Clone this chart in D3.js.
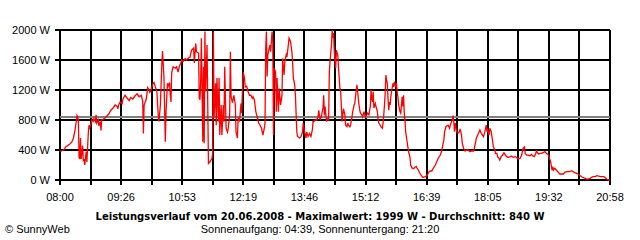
<!DOCTYPE html>
<html>
<head>
<meta charset="utf-8">
<script src="https://cdn.jsdelivr.net/npm/d3@7"></script>
<style>
  body { margin: 0; background: #fff; }
  svg { display: block; font-family: "Liberation Sans", Arial, sans-serif; }
</style>
</head>
<body>
<div id="chart"></div>
<script>
const times = [
  "08:00","08:03","08:06","08:08","08:11","08:14","08:17","08:19","08:21","08:23",
  "08:24","08:25","08:26","08:27","08:28","08:29","08:30","08:32","08:33","08:34",
  "08:35","08:37","08:38","08:40","08:41","08:42","08:44","08:45","08:47","08:48",
  "08:50","08:51","08:52","08:54","08:55","08:57","08:58","08:59","09:01","09:04",
  "09:06","09:09","09:12","09:15","09:18","09:21","09:22","09:23","09:25","09:28",
  "09:29","09:32","09:35","09:38","09:40","09:43","09:46","09:49","09:52","09:55",
  "09:57","09:58","09:59","10:02","10:04","10:06","10:07",
  "10:09","10:11","10:13","10:17","10:19","10:20","10:22","10:24","10:25","10:27",
  "10:29","10:30","10:32","10:33","10:35","10:36","10:37","10:38","10:40","10:43",
  "10:45","10:47","10:49","10:51","10:52","10:54","10:57","10:59","11:01","11:04",
  "11:06","11:09","11:10","11:12","11:13","11:16","11:17","11:18","11:19","11:20",
  "11:22","11:23","11:24","11:25","11:26","11:27","11:28","11:30","11:32","11:35",
  "11:36","11:37","11:38","11:40","11:41","11:42","11:44","11:45","11:46","11:48",
  "11:49","11:51","11:52","11:53","11:55","11:57","11:58","12:00","12:01","12:02",
  "12:04","12:06","12:08","12:09","12:11","12:12","12:14","12:16","12:17","12:19",
  "12:21","12:22","12:24","12:26","12:28","12:30","12:32","12:33","12:35","12:37",
  "12:39","12:41","12:43","12:45","12:47","12:49","12:50","12:51","12:52","12:53",
  "12:54","12:56","12:57","12:58","13:00","13:01","13:02","13:03","13:05","13:06",
  "13:07","13:09","13:10","13:12","13:14","13:15","13:17","13:18","13:20","13:21",
  "13:23","13:24","13:26","13:28","13:29","13:30","13:32","13:33","13:35","13:36",
  "13:39","13:41",
  "13:43","13:44","13:46","13:48","13:49","13:51","13:53","13:55","13:57","13:58",
  "13:59","14:01","14:03","14:05","14:06","14:08","14:10","14:12","14:13","14:14",
  "14:15","14:17","14:18","14:20","14:21","14:22","14:24","14:25","14:26","14:27",
  "14:28","14:29","14:30","14:31","14:33","14:34","14:36","14:37","14:38","14:39",
  "14:40","14:41","14:43","14:44","14:46","14:47","14:48","14:50","14:51","14:53",
  "14:54","14:56","14:57","14:58","15:00","15:01","15:03","15:04","15:05","15:07",
  "15:08","15:10","15:11","15:12","15:14","15:15","15:17","15:18","15:19","15:20",
  "15:21","15:22","15:23","15:24","15:26","15:27","15:29","15:30","15:31","15:33",
  "15:34","15:36","15:37","15:38","15:39","15:40","15:41","15:42","15:43","15:44",
  "15:45","15:46","15:47","15:48","15:49","15:51","15:52","15:53","15:55","15:56",
  "15:57","15:58","15:59","16:01","16:02","16:04","16:05","16:06","16:07","16:08",
  "16:09","16:11","16:13","16:15","16:16","16:18","16:20","16:22","16:24","16:25",
  "16:27","16:29","16:31","16:33","16:35","16:37","16:39","16:41","16:42","16:44",
  "16:46","16:48","16:51","16:53","16:55","16:58","17:00","17:01","17:03","17:04",
  "17:06","17:07","17:09","17:11","17:12","17:14","17:15","17:16","17:17","17:18",
  "17:19","17:20","17:21","17:23","17:25",
  "17:26","17:28","17:29","17:31","17:33","17:35","17:37","17:40","17:42","17:45",
  "17:46","17:48","17:49","17:52","17:54","17:56","17:59","18:01","18:03","18:04",
  "18:05","18:07","18:08","18:10","18:11","18:12","18:13","18:15","18:16","18:18",
  "18:19","18:21","18:22","18:24","18:26","18:28","18:30","18:32","18:34","18:37",
  "18:39","18:41","18:44","18:46","18:48","18:51","18:53","18:55","18:57","18:58",
  "19:00","19:02","19:05","19:07","19:09","19:11","19:13","19:14","19:16","19:17",
  "19:19","19:21","19:24","19:26","19:28","19:31","19:32","19:34","19:36","19:37",
  "19:38","19:40","19:43","19:45","19:47","19:50","19:52","19:54","19:57","19:59",
  "20:01","20:04","20:06","20:08","20:11","20:13","20:16","20:18","20:20","20:23",
  "20:25","20:27","20:30","20:32","20:34","20:37","20:39","20:42","20:44","20:46",
  "20:49","20:51","20:53","20:56","20:58"
];

const watts = [
  380,390,410,440,460,480,510,560,650,780,
  860,840,790,300,280,560,280,460,250,280,
  200,380,240,620,730,700,760,800,780,820,
  780,870,760,800,720,780,660,800,810,830,
  850,880,930,960,1000,980,950,1000,1040,1020,
  1080,1130,1090,1060,1100,1080,1120,1150,1110,1130,
  1050,620,1000,1080,1230,1200,1170,
  1200,1280,1300,1180,870,780,1000,1530,1720,1380,
  510,910,1290,1250,1300,1130,1040,1430,1510,1490,
  1510,1440,1520,1560,1600,1580,1620,1600,1620,1640,
  1730,1760,1560,1820,1710,1690,1090,1070,1310,1890,
  510,1510,490,1980,1180,1470,1800,220,240,290,
  360,1980,830,1290,730,1360,780,1360,600,1000,
  600,1000,780,1510,690,640,690,870,1710,1110,
  1030,1130,1000,640,560,830,780,1020,890,1440,
  1360,1240,1250,1180,1130,1130,1090,1110,1070,910,
  840,760,730,690,600,690,760,1760,1980,1380,
  1670,1760,1800,1710,1980,1850,600,1490,1440,910,
  1360,910,1220,1000,1130,1620,1400,1580,1670,1640,
  1800,1890,1850,1710,1580,1360,1270,1130,640,580,
  560,580,
  640,760,640,560,640,580,620,580,670,780,
  780,800,800,840,930,800,860,960,1130,860,
  980,780,820,800,1440,1580,1800,1999,1890,1960,
  1710,1580,1490,1730,1660,1490,1220,1180,980,780,
  870,950,870,730,710,760,730,710,730,840,
  910,1000,1020,1110,1270,1180,1000,930,890,870,
  840,910,870,840,870,890,870,930,980,1200,
  1090,1040,1180,960,1020,980,910,800,760,730,
  710,690,760,870,1000,1160,1400,1330,1290,1090,
  930,1040,1000,1110,1180,1290,1240,1310,1240,1290,
  1160,1110,1000,910,890,1110,980,1130,890,800,
  640,510,380,310,200,160,150,170,180,160,
  130,90,60,36,40,45,60,90,110,120,
  120,156,200,244,290,333,390,444,533,644,
  711,720,730,690,730,780,800,858,780,644,
  760,710,644,622,644,
  680,600,490,420,387,400,400,378,390,387,
  420,511,560,622,667,622,578,644,733,644,
  667,600,689,644,578,511,444,400,356,356,
  311,290,267,311,333,364,333,311,300,311,
  320,302,311,300,280,290,333,422,440,356,
  333,333,324,342,320,311,356,387,356,347,
  356,356,369,378,356,333,302,244,133,178,
  133,156,124,102,80,80,80,102,111,111,
  111,124,111,98,89,80,58,44,31,22,
  13,13,22,36,44,44,58,53,44,44,
  44,36,13,0,0
];

const xLabels = ["08:00","09:26","10:53","12:19","13:46","15:12","16:39","18:05","19:32","20:58"];
const yTicks = [0, 400, 800, 1200, 1600, 2000];
const average = 840;
const title = "Leistungsverlauf vom 20.06.2008 - Maximalwert: 1999 W - Durchschnitt: 840 W";
const sunText = "Sonnenaufgang: 04:39, Sonnenuntergang: 21:20";
const credit = "\u00a9 SunnyWeb";

const parseTime = d3.timeParse("%H:%M");
const data = times.map((t, i) => ({ Date: parseTime(t), Watt: watts[i] }));

const margin = { top: 30, right: 30, bottom: 60, left: 60 };
const width = 640 - margin.left - margin.right;
const height = 240 - margin.top - margin.bottom;

const svg = d3.select("#chart").append("svg")
  .attr("width", 640)
  .attr("height", 240);

const g = svg.append("g")
  .attr("transform", "translate(" + margin.left + "," + margin.top + ")");

const x = d3.scaleTime()
  .domain([parseTime(xLabels[0]), parseTime(xLabels[xLabels.length - 1])])
  .range([0, width]);
const y = d3.scaleLinear().domain([0, 2000]).range([height, 0]);

// 18 grid steps, every second one carries a label
const t0 = x.domain()[0].getTime(), t1 = x.domain()[1].getTime();
const grid = d3.range(19).map(i => new Date(t0 + (t1 - t0) * i / 18));

g.selectAll(".vgrid").data(grid).join("line")
  .attr("class", "vgrid")
  .attr("x1", d => Math.round(x(d))).attr("x2", d => Math.round(x(d)))
  .attr("y1", 0).attr("y2", height + 5)
  .attr("stroke", "#000").attr("stroke-width", 2)
  .attr("shape-rendering", "crispEdges");

g.selectAll(".hgrid").data(yTicks).join("line")
  .attr("class", "hgrid")
  .attr("x1", -5).attr("x2", width)
  .attr("y1", d => y(d)).attr("y2", d => y(d))
  .attr("stroke", "#000").attr("stroke-width", 2)
  .attr("shape-rendering", "crispEdges");

// average line
g.append("line")
  .attr("x1", 0).attr("x2", width)
  .attr("y1", y(average)).attr("y2", y(average))
  .attr("stroke", "#808080").attr("stroke-width", 2)
  .attr("shape-rendering", "crispEdges");

const line = d3.line()
  .x(d => x(d.Date))
  .y(d => y(d.Watt));

g.append("path")
  .datum(data)
  .attr("fill", "none")
  .attr("stroke", "#ff0000")
  .attr("stroke-width", 1.3)
  .attr("stroke-linejoin", "miter")
  .attr("d", line);

g.selectAll(".ylab").data(yTicks).join("text")
  .attr("class", "ylab")
  .attr("x", -10)
  .attr("y", d => y(d) + 4)
  .attr("text-anchor", "end")
  .style("font-size", "11px")
  .text(d => d + " W");

g.selectAll(".xlab").data(xLabels).join("text")
  .attr("class", "xlab")
  .attr("x", (d, i) => x(grid[i * 2]))
  .attr("y", height + 21)
  .attr("text-anchor", "middle")
  .style("font-size", "11px")
  .text(d => d);

svg.append("text")
  .attr("x", 320).attr("y", 220)
  .attr("text-anchor", "middle")
  .style("font-family", "'DejaVu Sans', sans-serif")
  .style("font-weight", "bold")
  .style("font-size", "10px")
  .text(title);

svg.append("text")
  .attr("x", 320).attr("y", 233)
  .attr("text-anchor", "middle")
  .style("font-size", "11px")
  .text(sunText);

svg.append("text")
  .attr("x", 5).attr("y", 233)
  .style("font-size", "11px")
  .text(credit);
</script>
</body>
</html>
